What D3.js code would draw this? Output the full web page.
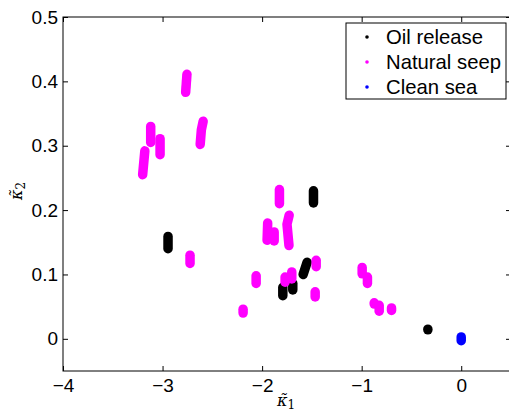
<!DOCTYPE html>
<html>
<head>
<meta charset="utf-8">
<script src="https://cdn.jsdelivr.net/npm/d3@7"></script>
<style>
    body { margin: 0; background: #fff; }
    svg { display: block; font-family: "Liberation Sans", Arial, sans-serif; }
</style>
</head>
<body>
<svg id="chart" width="509" height="414"></svg>
<script>
(function() {
    'use strict';

    // each cluster is a short run of points [kappa1, kappa2]
    var oilRelease = [
        [[-2.945, 0.159], [-2.945, 0.140]],
        [[-1.484, 0.230], [-1.484, 0.211]],
        [[-1.548, 0.119], [-1.588, 0.100]],
        [[-1.792, 0.080], [-1.792, 0.067]],
        [[-1.692, 0.086], [-1.692, 0.076]],
        [[-0.335, 0.015], [-0.335, 0.014]]
    ];
    var naturalSeep = [
        [[-2.755, 0.411], [-2.768, 0.383]],
        [[-3.119, 0.330], [-3.119, 0.305]],
        [[-3.025, 0.311], [-3.025, 0.286]],
        [[-3.178, 0.292], [-3.200, 0.255]],
        [[-2.592, 0.338], [-2.610, 0.325], [-2.622, 0.302]],
        [[-2.724, 0.130], [-2.724, 0.117]],
        [[-2.191, 0.046], [-2.191, 0.040]],
        [[-1.826, 0.232], [-1.826, 0.210]],
        [[-1.944, 0.180], [-1.950, 0.153]],
        [[-1.879, 0.166], [-1.879, 0.152]],
        [[-1.728, 0.192], [-1.750, 0.178], [-1.730, 0.145]],
        [[-1.457, 0.122], [-1.457, 0.112]],
        [[-2.060, 0.098], [-2.060, 0.086]],
        [[-1.769, 0.096], [-1.769, 0.088]],
        [[-1.702, 0.104], [-1.702, 0.093]],
        [[-1.467, 0.073], [-1.467, 0.065]],
        [[-0.995, 0.111], [-0.995, 0.101]],
        [[-0.942, 0.096], [-0.942, 0.086]],
        [[-0.874, 0.056], [-0.874, 0.054]],
        [[-0.824, 0.052], [-0.824, 0.043]],
        [[-0.700, 0.048], [-0.700, 0.044]]
    ];
    var cleanSea = [
        [[0, 0.003], [0, -0.003]]
    ];
    var xTicks = [-4, -3, -2, -1, 0];
    var yTicks = [0, 0.1, 0.2, 0.3, 0.4, 0.5];
    var legendLabels = ['Oil release', 'Natural seep', 'Clean sea'];

    var series = [
        {name: legendLabels[0], color: '#000000', clusters: oilRelease},
        {name: legendLabels[1], color: '#ff00ff', clusters: naturalSeep},
        {name: legendLabels[2], color: '#0000ff', clusters: cleanSea}
    ];

    var margin = {top: 17, right: -2, bottom: 43, left: 63},
        width = 509 - margin.left - margin.right,
        height = 414 - margin.top - margin.bottom;

    var svg = d3.select('svg#chart');
    var g = svg.append('g')
        .attr('transform', 'translate(' + margin.left + ',' + margin.top + ')');

    var x = d3.scaleLinear().domain([-4, 0.5]).range([0, width]);
    var y = d3.scaleLinear().domain([-0.05, 0.5]).range([height, 0]);

    function fmtX(d) { return d < 0 ? '\u2212' + Math.abs(d) : String(d); }
    function fmtY(d) { return d3.format('.1~f')(d); }

    // clusters
    var line = d3.line()
        .x(function(d) { return x(d[0]); })
        .y(function(d) { return y(d[1]); });

    series.forEach(function(s) {
        g.append('g')
            .selectAll('path')
            .data(s.clusters)
            .enter().append('path')
            .attr('d', line)
            .attr('fill', 'none')
            .attr('stroke', s.color)
            .attr('stroke-width', 9.5)
            .attr('stroke-linecap', 'round')
            .attr('stroke-linejoin', 'round');
    });

    // axes, MATLAB style: inward ticks on all four sides
    var tick = 5;
    var xBottom = g.append('g')
        .attr('transform', 'translate(0,' + height + ')')
        .call(d3.axisBottom(x).tickValues(xTicks).tickFormat(fmtX).tickSize(-tick).tickPadding(8));
    var xTop = g.append('g')
        .call(d3.axisTop(x).tickValues(xTicks).tickFormat('').tickSize(-tick));
    var yLeft = g.append('g')
        .call(d3.axisLeft(y).tickValues(yTicks).tickFormat(fmtY).tickSize(-tick).tickPadding(5));
    var yRight = g.append('g')
        .attr('transform', 'translate(' + width + ',0)')
        .call(d3.axisRight(y).tickValues(yTicks).tickFormat('').tickSize(-tick));

    [xBottom, xTop, yLeft, yRight].forEach(function(a) {
        a.select('.domain').remove();
        a.selectAll('line').attr('stroke', '#000');
        a.selectAll('text')
            .attr('fill', '#000')
            .style('font-size', '19px')
            .style('font-family', '"Liberation Sans", Arial, sans-serif');
    });

    g.append('rect')
        .attr('width', width)
        .attr('height', height)
        .attr('fill', 'none')
        .attr('stroke', '#000')
        .attr('stroke-width', 1);

    // axis labels
    var labelFont = '"DejaVu Serif", "Liberation Serif", serif';
    var xl = svg.append('text')
        .attr('x', 277)
        .attr('y', 406)
        .style('font-family', labelFont)
        .style('font-style', 'italic')
        .style('font-size', '16px');
    xl.append('tspan').text('\u03ba\u0303');
    xl.append('tspan').attr('dy', 3).style('font-size', '12px').style('font-style', 'normal').text('1');

    var yl = svg.append('text')
        .attr('transform', 'translate(22,200) rotate(-90)')
        .style('font-family', labelFont)
        .style('font-style', 'italic')
        .style('font-size', '16px');
    yl.append('tspan').text('\u03ba\u0303');
    yl.append('tspan').attr('dy', 3).style('font-size', '12px').style('font-style', 'normal').text('2');

    // legend
    var legend = svg.append('g').attr('transform', 'translate(346,23)');
    legend.append('rect')
        .attr('width', 160)
        .attr('height', 76)
        .attr('fill', '#fff')
        .attr('stroke', '#000')
        .attr('stroke-width', 1);
    var item = legend.selectAll('g.item')
        .data(series)
        .enter().append('g')
        .attr('class', 'item')
        .attr('transform', function(d, i) { return 'translate(0,' + (14 + i * 25) + ')'; });
    item.append('circle')
        .attr('cx', 21)
        .attr('cy', 0)
        .attr('r', 1.8)
        .attr('fill', function(d) { return d.color; });
    item.append('text')
        .attr('x', 40)
        .attr('y', 7)
        .style('font-size', '20.3px')
        .text(function(d) { return d.name; });
})();
</script>
</body>
</html>
